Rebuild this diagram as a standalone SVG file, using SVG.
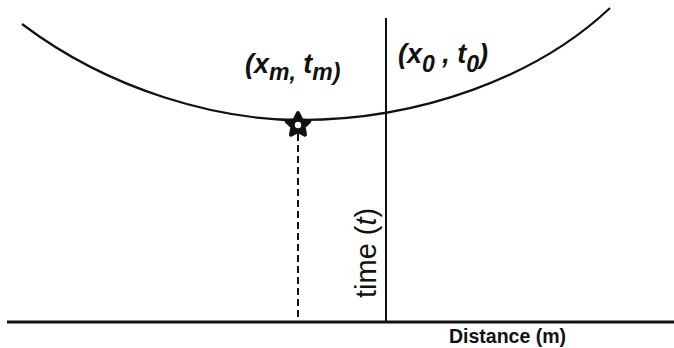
<svg xmlns="http://www.w3.org/2000/svg" width="674" height="348" viewBox="0 0 674 348">
<style>
.ln{fill:none;stroke:#111;stroke-linecap:butt}
.lbl{font-family:"Liberation Sans",Arial,sans-serif;font-style:italic;font-weight:bold;font-size:27px;fill:#111}
.sub{font-size:23px}
.ax{font-family:"Liberation Sans",Arial,sans-serif;font-size:29px;fill:#111}
.dist{font-family:"Liberation Sans",Arial,sans-serif;font-weight:bold;font-size:21px;fill:#111}
</style>
<rect width="674" height="348" fill="#fff"/>
<g id="axes">
<line class="ln" x1="7" y1="322" x2="674" y2="322" stroke-width="2.8"/>
<line class="ln" x1="386" y1="18" x2="386" y2="322" stroke-width="2"/>
</g>
<g id="connectors">
<line class="ln" x1="298" y1="134" x2="298" y2="321" stroke-width="2" stroke-dasharray="7,4"/>
</g>
<g id="curve">
<path class="ln" stroke-width="2.2" d="M22,24 C112,92 220,120 300,120 C420,120 537,77 610,8"/>
</g>
<g id="star">
<polygon points="298,113 301.5,120.2 309.4,121.3 303.6,126.8 305,134.7 298,131 291,134.7 292.4,126.8 286.6,121.3 294.5,120.2" fill="#111" stroke="#111" stroke-width="4" stroke-linejoin="round"/>
<circle cx="298" cy="125" r="3.2" fill="#fff"/>
</g>
<g id="label-m">
<text class="lbl" x="245" y="73">(x<tspan class="sub" dy="7">m,</tspan><tspan dy="-7"> t</tspan><tspan class="sub" dy="7">m)</tspan></text>
</g>
<g id="label-0">
<text class="lbl" x="398" y="63">(x<tspan class="sub" dy="9">0</tspan><tspan dy="-9"> , t</tspan><tspan class="sub" dy="9">0</tspan><tspan dy="-9">)</tspan></text>
</g>
<g id="label-time">
<text class="ax" transform="translate(376,298) rotate(-90)">time (<tspan font-style="italic">t</tspan>)</text>
</g>
<g id="label-distance">
<text class="dist" x="449" y="343" textLength="117" lengthAdjust="spacingAndGlyphs">Distance (m)</text>
</g>
</svg>
